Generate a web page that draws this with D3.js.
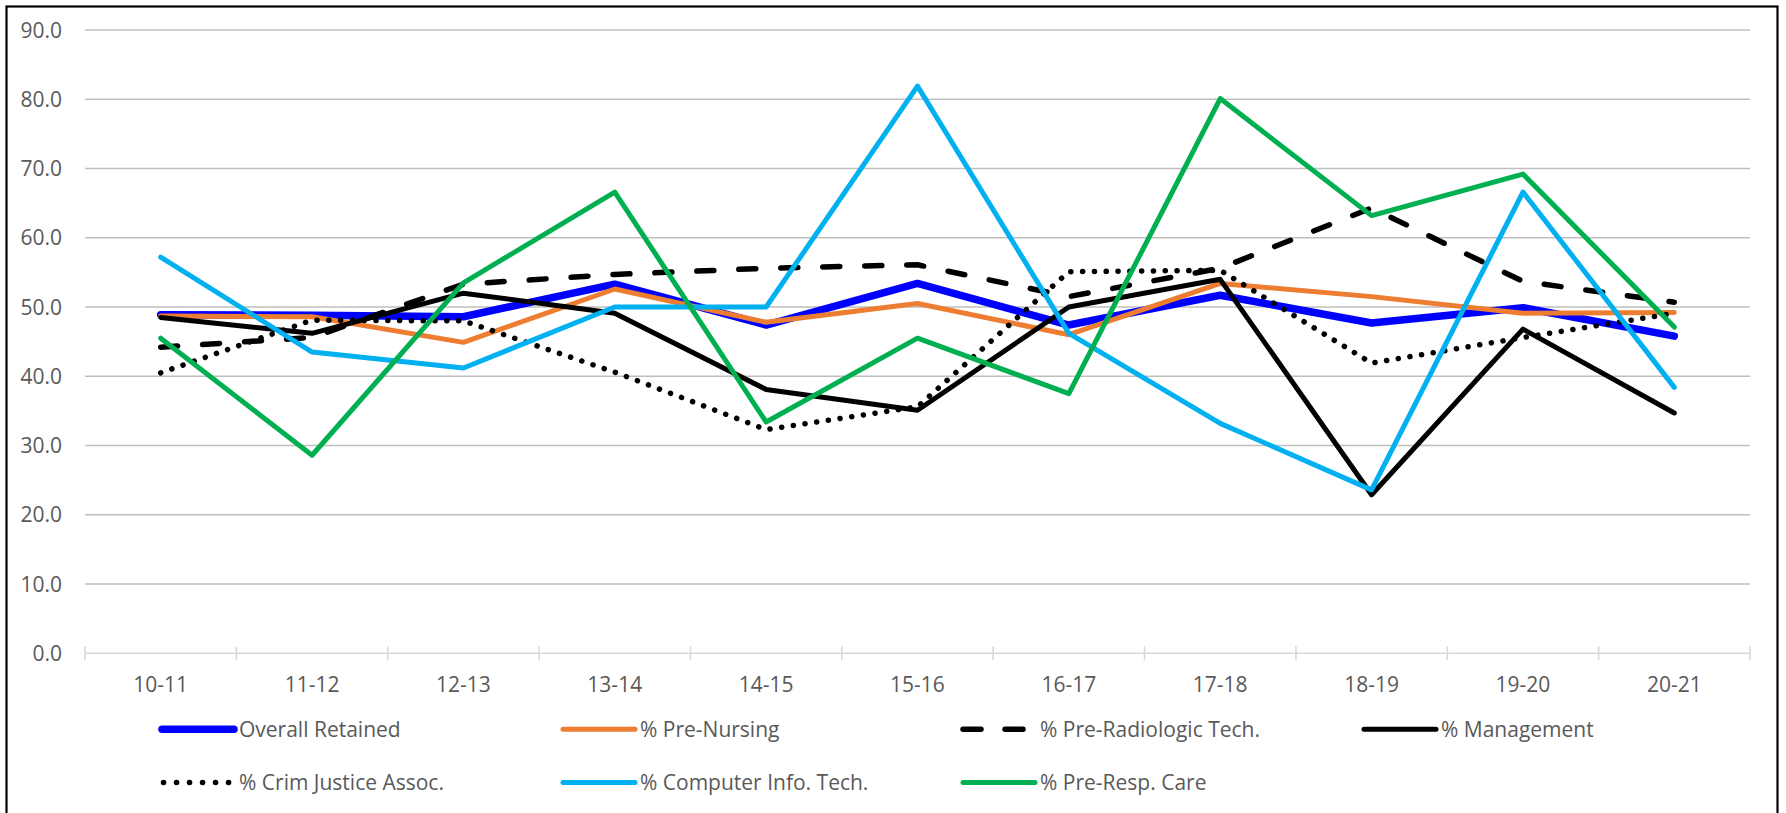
<!DOCTYPE html>
<html>
<head>
<meta charset="utf-8">
<script src="https://cdn.jsdelivr.net/npm/d3@7"></script>
<style>
    body { margin: 0; background: #fff; }
    svg text { font-family: "Open Sans", sans-serif; fill: #595959; }
</style>
</head>
<body>
<div class="viz1"></div>
<script>
var years = ["10-11", "11-12", "12-13", "13-14", "14-15", "15-16", "16-17", "17-18", "18-19", "19-20", "20-21"];
var yTicks = [0, 10, 20, 30, 40, 50, 60, 70, 80, 90];

var overallRetained = [48.9, 48.8, 48.6, 53.3, 47.4, 53.4, 47.4, 51.7, 47.7, 49.9, 45.8];
var preNursing      = [48.7, 48.6, 44.9, 52.6, 47.8, 50.5, 46.0, 53.4, 51.5, 49.1, 49.2];
var preRadiologic   = [44.2, 45.6, 53.3, 54.7, 55.6, 56.1, 51.5, 55.6, 64.3, 53.7, 50.7];
var management      = [48.5, 46.2, 52.0, 49.1, 38.1, 35.1, 50.0, 54.0, 22.9, 46.8, 34.7];
var crimJustice     = [40.5, 48.1, 48.0, 40.6, 32.3, 35.6, 55.1, 55.3, 41.9, 45.6, 49.1];
var computerInfo    = [57.2, 43.5, 41.2, 50.0, 50.0, 81.9, 46.2, 33.2, 23.6, 66.6, 38.4];
var preResp         = [45.5, 28.6, 53.5, 66.6, 33.4, 45.5, 37.5, 80.1, 63.2, 69.2, 47.1];

var seriesNames = ["Overall Retained", "% Pre-Nursing", "% Pre-Radiologic Tech.", "% Management",
                   "% Crim Justice Assoc.", "% Computer Info. Tech.", "% Pre-Resp. Care"];

var series = [
    {name: seriesNames[0], values: overallRetained, color: "#0000ff", width: 7.5, dash: null},
    {name: seriesNames[1], values: preNursing, color: "#ed7d31", width: 5, dash: null},
    {name: seriesNames[2], values: preRadiologic, color: "#000000", width: 5.5, dash: "dash"},
    {name: seriesNames[3], values: management, color: "#000000", width: 5, dash: null},
    {name: seriesNames[4], values: crimJustice, color: "#000000", width: 5.5, dash: "dot"},
    {name: seriesNames[5], values: computerInfo, color: "#00b0f0", width: 5, dash: null},
    {name: seriesNames[6], values: preResp, color: "#00b050", width: 5, dash: null}
];

var w = 1786;
var h = 813;
var plotLeft = 85, plotRight = 1750, plotTop = 30, plotBottom = 653.3;

var xScale = d3.scaleBand()
    .domain(years)
    .range([plotLeft, plotRight])
    .padding(0);

var yScale = d3.scaleLinear()
    .domain([0, 90])
    .range([plotBottom, plotTop]);

var svg = d3.select(".viz1")
    .append("svg")
    .attr("width", w)
    .attr("height", h);

svg.append("rect")
    .attr("width", w)
    .attr("height", h)
    .attr("fill", "#fff");

// chart border
svg.append("rect")
    .attr("x", 6.5)
    .attr("y", 6.5)
    .attr("width", 1771)
    .attr("height", 830)
    .attr("fill", "none")
    .attr("stroke", "#000")
    .attr("stroke-width", 2.2);

// gridlines
svg.selectAll(".grid")
    .data(yTicks.slice(1))
    .enter()
    .append("line")
    .attr("class", "grid")
    .attr("x1", plotLeft)
    .attr("x2", plotRight)
    .attr("y1", function(d) { return yScale(d); })
    .attr("y2", function(d) { return yScale(d); })
    .attr("stroke", "#bfbfbf")
    .attr("stroke-width", 1.6);

// y labels
svg.selectAll(".ylabel")
    .data(yTicks)
    .enter()
    .append("text")
    .attr("class", "ylabel")
    .attr("x", 62)
    .attr("y", function(d) { return yScale(d); })
    .attr("dy", "0.36em")
    .attr("text-anchor", "end")
    .attr("font-size", "21px")
    .text(function(d) { return d3.format(".1f")(d); });

// x axis line + ticks at category boundaries
svg.append("line")
    .attr("x1", plotLeft)
    .attr("x2", plotRight)
    .attr("y1", plotBottom)
    .attr("y2", plotBottom)
    .attr("stroke", "#d9d9d9")
    .attr("stroke-width", 1.6);

svg.selectAll(".xtick")
    .data(d3.range(years.length + 1))
    .enter()
    .append("line")
    .attr("class", "xtick")
    .attr("x1", function(d) { return plotLeft + d * xScale.step(); })
    .attr("x2", function(d) { return plotLeft + d * xScale.step(); })
    .attr("y1", plotBottom - 7)
    .attr("y2", plotBottom + 7)
    .attr("stroke", "#d9d9d9")
    .attr("stroke-width", 1.6);

svg.selectAll(".xlabel")
    .data(years)
    .enter()
    .append("text")
    .attr("class", "xlabel")
    .attr("x", function(d) { return xScale(d) + xScale.bandwidth() / 2; })
    .attr("y", 692)
    .attr("text-anchor", "middle")
    .attr("font-size", "21px")
    .text(function(d) { return d; });

// lines
var dashes = {dash: "17,25", dot: "0.1,11.7"};

var line = d3.line()
    .x(function(d, i) { return xScale(years[i]) + xScale.bandwidth() / 2; })
    .y(function(d) { return yScale(d); });

svg.selectAll(".series")
    .data(series)
    .enter()
    .append("path")
    .attr("class", "series")
    .attr("d", function(d) { return line(d.values); })
    .attr("fill", "none")
    .attr("stroke", function(d) { return d.color; })
    .attr("stroke-width", function(d) { return d.width; })
    .attr("stroke-dasharray", function(d) { return d.dash ? dashes[d.dash] : null; })
    .attr("stroke-linejoin", "round")
    .attr("stroke-linecap", "round");

// legend
var legX = [161, 562, 962, 1363];
var legY = [729.3, 782.5];

var leg = svg.selectAll(".legend")
    .data(series)
    .enter()
    .append("g")
    .attr("class", "legend")
    .attr("transform", function(d, i) {
        return "translate(" + legX[i % 4] + "," + legY[Math.floor(i / 4)] + ")";
    });

leg.append("line")
    .attr("x1", function(d) { return d.dash === "dot" ? 2.5 : 1; })
    .attr("x2", 73)
    .attr("y1", 0)
    .attr("y2", 0)
    .attr("stroke", function(d) { return d.color; })
    .attr("stroke-width", function(d) { return d.width; })
    .attr("stroke-dasharray", function(d) {
        if (d.dash === "dash") return "18,24";
        if (d.dash === "dot") return "0.1,12.9";
        return null;
    })
    .attr("stroke-linecap", "round");

leg.append("text")
    .attr("x", 78)
    .attr("y", 0)
    .attr("dy", "0.36em")
    .attr("font-size", "21px")
    .text(function(d) { return d.name; });
</script>
</body>
</html>
